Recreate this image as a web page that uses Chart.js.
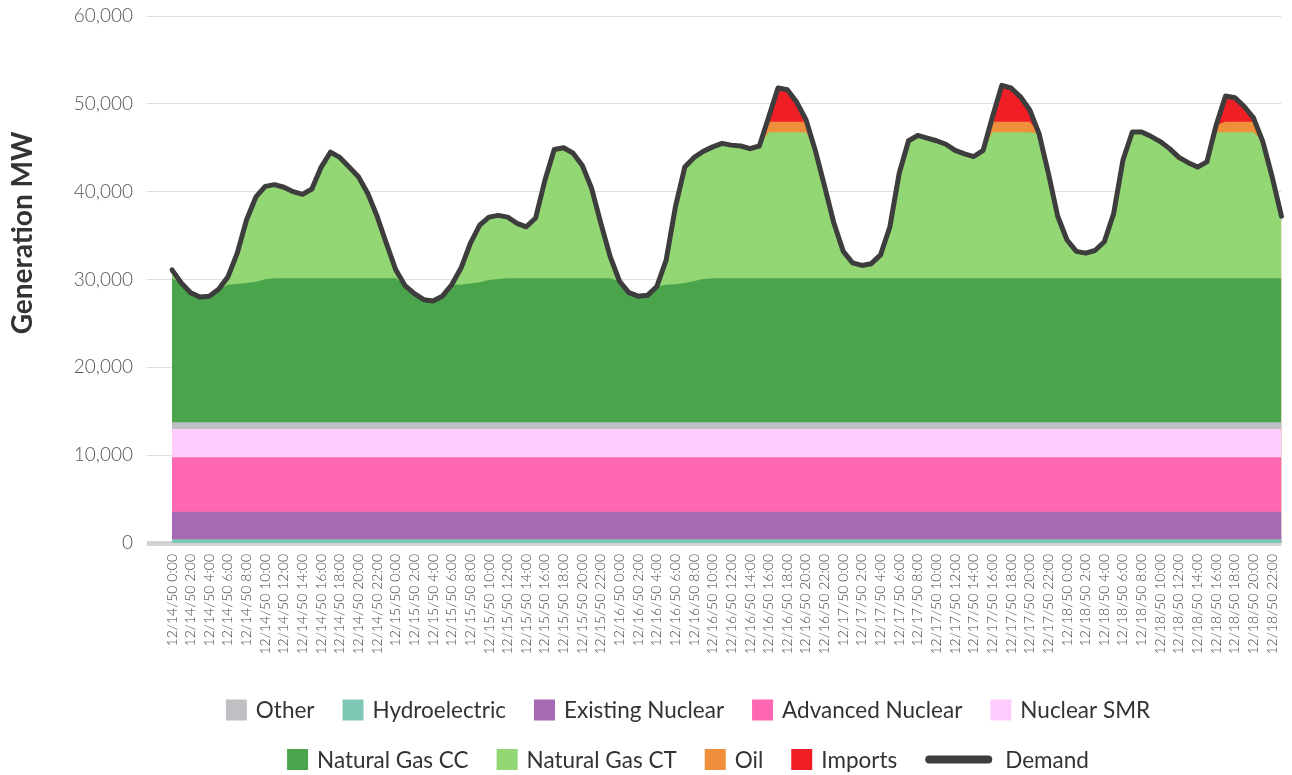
<!DOCTYPE html>
<html>
<head>
<meta charset="utf-8">
<script src="https://cdn.jsdelivr.net/npm/chart.js@4.4.1/dist/chart.umd.min.js"></script>
<style>
  html, body { margin: 0; padding: 0; background: #fff; }
  #wrap { width: 1292px; height: 775px; }
</style>
</head>
<body>
<div id="wrap"><canvas id="chart" width="1292" height="775"></canvas></div>
<script>
const days = ['12/14/50', '12/15/50', '12/16/50', '12/17/50', '12/18/50'];
const hours = [0, 1, 2, 3, 4, 5, 6, 7, 8, 9, 10, 11, 12, 13, 14, 15, 16, 17, 18, 19, 20, 21, 22, 23];
const categories = days.flatMap(d => hours.map(h => d + ' ' + h + ':00'));

// MW, one row per day
const hydro = [
  420, 420, 420, 420, 420, 420, 420, 420, 420, 420, 420, 420, 420, 420, 420, 420, 420, 420, 420, 420, 420, 420, 420, 420,
  420, 420, 420, 420, 420, 420, 420, 420, 420, 420, 420, 420, 420, 420, 420, 420, 420, 420, 420, 420, 420, 420, 420, 420,
  420, 420, 420, 420, 420, 420, 420, 420, 420, 420, 420, 420, 420, 420, 420, 420, 420, 420, 420, 420, 420, 420, 420, 420,
  420, 420, 420, 420, 420, 420, 420, 420, 420, 420, 420, 420, 420, 420, 420, 420, 420, 420, 420, 420, 420, 420, 420, 420,
  420, 420, 420, 420, 420, 420, 420, 420, 420, 420, 420, 420, 420, 420, 420, 420, 420, 420, 420, 420, 420, 420, 420, 420
];
const existingNuclear = [
  3140, 3140, 3140, 3140, 3140, 3140, 3140, 3140, 3140, 3140, 3140, 3140, 3140, 3140, 3140, 3140, 3140, 3140, 3140, 3140, 3140, 3140, 3140, 3140,
  3140, 3140, 3140, 3140, 3140, 3140, 3140, 3140, 3140, 3140, 3140, 3140, 3140, 3140, 3140, 3140, 3140, 3140, 3140, 3140, 3140, 3140, 3140, 3140,
  3140, 3140, 3140, 3140, 3140, 3140, 3140, 3140, 3140, 3140, 3140, 3140, 3140, 3140, 3140, 3140, 3140, 3140, 3140, 3140, 3140, 3140, 3140, 3140,
  3140, 3140, 3140, 3140, 3140, 3140, 3140, 3140, 3140, 3140, 3140, 3140, 3140, 3140, 3140, 3140, 3140, 3140, 3140, 3140, 3140, 3140, 3140, 3140,
  3140, 3140, 3140, 3140, 3140, 3140, 3140, 3140, 3140, 3140, 3140, 3140, 3140, 3140, 3140, 3140, 3140, 3140, 3140, 3140, 3140, 3140, 3140, 3140
];
const advancedNuclear = [
  6200, 6200, 6200, 6200, 6200, 6200, 6200, 6200, 6200, 6200, 6200, 6200, 6200, 6200, 6200, 6200, 6200, 6200, 6200, 6200, 6200, 6200, 6200, 6200,
  6200, 6200, 6200, 6200, 6200, 6200, 6200, 6200, 6200, 6200, 6200, 6200, 6200, 6200, 6200, 6200, 6200, 6200, 6200, 6200, 6200, 6200, 6200, 6200,
  6200, 6200, 6200, 6200, 6200, 6200, 6200, 6200, 6200, 6200, 6200, 6200, 6200, 6200, 6200, 6200, 6200, 6200, 6200, 6200, 6200, 6200, 6200, 6200,
  6200, 6200, 6200, 6200, 6200, 6200, 6200, 6200, 6200, 6200, 6200, 6200, 6200, 6200, 6200, 6200, 6200, 6200, 6200, 6200, 6200, 6200, 6200, 6200,
  6200, 6200, 6200, 6200, 6200, 6200, 6200, 6200, 6200, 6200, 6200, 6200, 6200, 6200, 6200, 6200, 6200, 6200, 6200, 6200, 6200, 6200, 6200, 6200
];
const nuclearSMR = [
  3220, 3220, 3220, 3220, 3220, 3220, 3220, 3220, 3220, 3220, 3220, 3220, 3220, 3220, 3220, 3220, 3220, 3220, 3220, 3220, 3220, 3220, 3220, 3220,
  3220, 3220, 3220, 3220, 3220, 3220, 3220, 3220, 3220, 3220, 3220, 3220, 3220, 3220, 3220, 3220, 3220, 3220, 3220, 3220, 3220, 3220, 3220, 3220,
  3220, 3220, 3220, 3220, 3220, 3220, 3220, 3220, 3220, 3220, 3220, 3220, 3220, 3220, 3220, 3220, 3220, 3220, 3220, 3220, 3220, 3220, 3220, 3220,
  3220, 3220, 3220, 3220, 3220, 3220, 3220, 3220, 3220, 3220, 3220, 3220, 3220, 3220, 3220, 3220, 3220, 3220, 3220, 3220, 3220, 3220, 3220, 3220,
  3220, 3220, 3220, 3220, 3220, 3220, 3220, 3220, 3220, 3220, 3220, 3220, 3220, 3220, 3220, 3220, 3220, 3220, 3220, 3220, 3220, 3220, 3220, 3220
];
const other = [
  760, 760, 760, 760, 760, 760, 760, 760, 760, 760, 760, 760, 760, 760, 760, 760, 760, 760, 760, 760, 760, 760, 760, 760,
  760, 760, 760, 760, 760, 760, 760, 760, 760, 760, 760, 760, 760, 760, 760, 760, 760, 760, 760, 760, 760, 760, 760, 760,
  760, 760, 760, 760, 760, 760, 760, 760, 760, 760, 760, 760, 760, 760, 760, 760, 760, 760, 760, 760, 760, 760, 760, 760,
  760, 760, 760, 760, 760, 760, 760, 760, 760, 760, 760, 760, 760, 760, 760, 760, 760, 760, 760, 760, 760, 760, 760, 760,
  760, 760, 760, 760, 760, 760, 760, 760, 760, 760, 760, 760, 760, 760, 760, 760, 760, 760, 760, 760, 760, 760, 760, 760
];
const gasCC = [
  16400, 15860, 14760, 14260, 14360, 15160, 15660, 15760, 15860, 16010, 16280, 16400, 16400, 16400, 16400, 16400, 16400, 16400, 16400, 16400, 16400, 16400, 16400, 16400,
  16400, 15560, 14660, 13960, 13810, 14360, 15660, 15660, 15810, 15940, 16200, 16320, 16400, 16400, 16400, 16400, 16400, 16400, 16400, 16400, 16400, 16400, 16400, 16400,
  16060, 14760, 14360, 14460, 15460, 15660, 15710, 15860, 16090, 16320, 16400, 16400, 16400, 16400, 16400, 16400, 16400, 16400, 16400, 16400, 16400, 16400, 16400, 16400,
  16400, 16400, 16400, 16400, 16400, 16400, 16400, 16400, 16400, 16400, 16400, 16400, 16400, 16400, 16400, 16400, 16400, 16400, 16400, 16400, 16400, 16400, 16400, 16400,
  16400, 16400, 16400, 16400, 16400, 16400, 16400, 16400, 16400, 16400, 16400, 16400, 16400, 16400, 16400, 16400, 16400, 16400, 16400, 16400, 16400, 16400, 16400, 16400
];
const gasCT = [
  960, 0, 0, 0, 0, 0, 900, 3500, 7200, 9650, 10580, 10660, 10360, 9860, 9560, 10160, 12660, 14360, 13760, 12660, 11560, 9660, 7060, 3960,
  960, 0, 0, 0, 0, 0, 0, 1900, 4550, 6520, 7160, 7240, 6960, 6260, 5860, 6860, 11160, 14660, 14860, 14260, 12860, 10260, 6260, 2460,
  0, 0, 0, 0, 0, 2800, 8850, 13200, 14070, 14540, 14960, 15360, 15160, 15060, 14760, 15060, 16620, 16620, 16620, 16620, 16620, 14560, 10460, 6260,
  3060, 1760, 1460, 1660, 2660, 5860, 11960, 15660, 16260, 15960, 15660, 15260, 14560, 14160, 13860, 14560, 16620, 16620, 16620, 16620, 16620, 16460, 11960, 7060,
  4360, 3060, 2860, 3160, 4160, 7360, 13460, 16620, 16620, 16160, 15560, 14760, 13760, 13160, 12660, 13260, 16620, 16620, 16620, 16620, 16620, 15560, 11560, 7060
];
const oil = [
  0, 0, 0, 0, 0, 0, 0, 0, 0, 0, 0, 0, 0, 0, 0, 0, 0, 0, 0, 0, 0, 0, 0, 0,
  0, 0, 0, 0, 0, 0, 0, 0, 0, 0, 0, 0, 0, 0, 0, 0, 0, 0, 0, 0, 0, 0, 0, 0,
  0, 0, 0, 0, 0, 0, 0, 0, 0, 0, 0, 0, 0, 0, 0, 0, 1210, 1210, 1210, 1210, 1210, 0, 0, 0,
  0, 0, 0, 0, 0, 0, 0, 0, 0, 0, 0, 0, 0, 0, 0, 0, 1210, 1210, 1210, 1210, 1210, 0, 0, 0,
  0, 0, 0, 0, 0, 0, 0, 0, 0, 0, 0, 0, 0, 0, 0, 0, 840, 1210, 1210, 1210, 1210, 0, 0, 0
];
const imports = [
  0, 0, 0, 0, 0, 0, 0, 0, 0, 0, 0, 0, 0, 0, 0, 0, 0, 0, 0, 0, 0, 0, 0, 0,
  0, 0, 0, 0, 0, 0, 0, 0, 0, 0, 0, 0, 0, 0, 0, 0, 0, 0, 0, 0, 0, 0, 0, 0,
  0, 0, 0, 0, 0, 0, 0, 0, 0, 0, 0, 0, 0, 0, 0, 0, 530, 3830, 3630, 2230, 230, 0, 0, 0,
  0, 0, 0, 0, 0, 0, 0, 0, 0, 0, 0, 0, 0, 0, 0, 0, 530, 4130, 3830, 2830, 1330, 0, 0, 0,
  0, 0, 0, 0, 0, 0, 0, 0, 0, 0, 0, 0, 0, 0, 0, 0, 0, 2930, 2730, 1730, 430, 0, 0, 0
];
const demand = [
  31100, 29600, 28500, 28000, 28100, 28900, 30300, 33000, 36800, 39400, 40600, 40800, 40500, 40000, 39700, 40300, 42800, 44500, 43900, 42800, 41700, 39800, 37200, 34100,
  31100, 29300, 28400, 27700, 27550, 28100, 29400, 31300, 34100, 36200, 37100, 37300, 37100, 36400, 36000, 37000, 41300, 44800, 45000, 44400, 43000, 40400, 36400, 32600,
  29800, 28500, 28100, 28200, 29200, 32200, 38300, 42800, 43900, 44600, 45100, 45500, 45300, 45200, 44900, 45200, 48500, 51800, 51600, 50200, 48200, 44700, 40600, 36400,
  33200, 31900, 31600, 31800, 32800, 36000, 42100, 45800, 46400, 46100, 45800, 45400, 44700, 44300, 44000, 44700, 48500, 52100, 51800, 50800, 49300, 46600, 42100, 37200,
  34500, 33200, 33000, 33300, 34300, 37500, 43600, 46800, 46800, 46300, 45700, 44900, 43900, 43300, 42800, 43400, 47600, 50900, 50700, 49700, 48400, 45700, 41700, 37200
];

const legendRows = [
  ['Other', 'Hydroelectric', 'Existing Nuclear', 'Advanced Nuclear', 'Nuclear SMR'],
  ['Natural Gas CC', 'Natural Gas CT', 'Oil', 'Imports', 'Demand']
];

function area(label, data, color) {
  return {
    label: label,
    data: data,
    backgroundColor: color,
    borderColor: color,
    borderWidth: 0,
    pointRadius: 0,
    fill: 'origin',
    stack: 'gen'
  };
}

// legend + rotated y title, drawn by hand so the Demand marker can be a wide line
const extras = {
  id: 'extras',
  afterDraw(chart) {
    const ctx = chart.ctx;
    ctx.save();
    ctx.font = '22.5px Lato';
    ctx.textBaseline = 'middle';
    const rowY = [710, 759.5];
    legendRows.forEach((row, r) => {
      const y = rowY[r];
      const widths = row.map(name => (name === 'Demand' ? 67 + 13 : 21 + 9) + ctx.measureText(name).width);
      const gap = 28;
      const total = widths.reduce((a, b) => a + b, 0) + gap * (row.length - 1);
      let x = 688 - total / 2;
      row.forEach((name, k) => {
        const ds = chart.data.datasets.find(d => d.label === name);
        if (name === 'Demand') {
          ctx.strokeStyle = ds.borderColor;
          ctx.lineWidth = 8;
          ctx.lineCap = 'round';
          ctx.beginPath();
          ctx.moveTo(x + 4, y);
          ctx.lineTo(x + 63, y);
          ctx.stroke();
          ctx.fillStyle = '#333';
          ctx.fillText(name, x + 80, y + 1);
        } else {
          ctx.fillStyle = ds.backgroundColor;
          ctx.fillRect(x, y - 10.5, 21, 21);
          ctx.fillStyle = '#333';
          ctx.fillText(name, x + 30, y + 1);
        }
        x += widths[k] + gap;
      });
    });
    ctx.translate(32, 233);
    ctx.rotate(-Math.PI / 2);
    ctx.font = 'bold 28px Lato';
    ctx.textAlign = 'center';
    ctx.textBaseline = 'alphabetic';
    ctx.fillStyle = '#333';
    ctx.fillText('Generation MW', 0, 0);
    ctx.restore();
  }
};

new Chart(document.getElementById('chart').getContext('2d'), {
  type: 'line',
  data: {
    labels: categories,
    datasets: [
      area('Hydroelectric', hydro, '#7fc8b6'),
      area('Existing Nuclear', existingNuclear, '#a66ab4'),
      area('Advanced Nuclear', advancedNuclear, '#ff67b3'),
      area('Nuclear SMR', nuclearSMR, '#ffccfd'),
      area('Other', other, '#bfbfc4'),
      area('Natural Gas CC', gasCC, '#4aa44c'),
      area('Natural Gas CT', gasCT, '#93d774'),
      area('Oil', oil, '#ef8f3b'),
      area('Imports', imports, '#ef1f25'),
      {
        label: 'Demand',
        data: demand,
        borderColor: '#3d3d3d',
        backgroundColor: '#3d3d3d',
        borderWidth: 5,
        borderJoinStyle: 'round',
        borderCapStyle: 'round',
        pointRadius: 0,
        fill: false,
        stack: 'demand',
        order: -1
      }
    ]
  },
  options: {
    responsive: false,
    animation: false,
    devicePixelRatio: 1,
    layout: { autoPadding: false, padding: { top: 16, right: 7, bottom: 112, left: 0 } },
    plugins: {
      legend: { display: false },
      tooltip: { enabled: false }
    },
    scales: {
      x: {
        offset: false,
        grid: { display: false },
        border: { display: false },
        ticks: {
          autoSkip: false,
          minRotation: 90,
          maxRotation: 90,
          padding: 3,
          color: '#444',
          font: { family: 'Lato', weight: 300, size: 14 },
          callback: (v, i) => (i % 2 === 0 ? categories[i] : null)
        },
        afterFit: s => { s.height = 120; }
      },
      y: {
        stacked: true,
        min: 0,
        max: 60000,
        border: { display: false },
        grid: {
          color: ctx => (ctx.tick && ctx.tick.value === 0 ? '#d3d3d3' : '#dedede'),
          lineWidth: ctx => (ctx.tick && ctx.tick.value === 0 ? 5 : 1),
          tickLength: 25
        },
        ticks: {
          stepSize: 10000,
          padding: 14,
          color: '#555',
          // tiny lineHeight keeps the label padding from pushing the plot top down
          font: { family: 'Lato', weight: 300, size: 19, lineHeight: 0.1 },
          callback: v => v.toLocaleString('en-US')
        },
        afterFit: s => { s.width = 172; }
      }
    }
  },
  plugins: [extras]
});
</script>
</body>
</html>
